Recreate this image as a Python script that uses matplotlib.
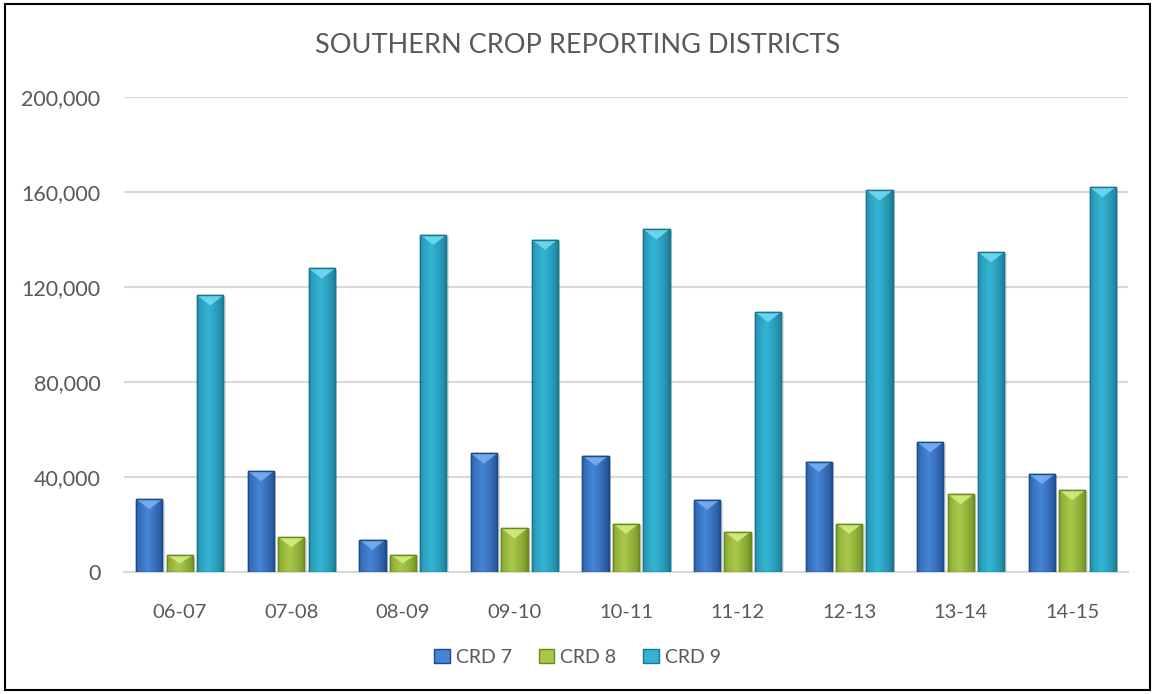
import numpy as np
import matplotlib.pyplot as plt
from matplotlib.colors import LinearSegmentedColormap
from matplotlib.patches import Polygon, Rectangle
from matplotlib.ticker import FuncFormatter

# values
seasons = ["06-07", "07-08", "08-09", "09-10", "10-11", "11-12", "12-13", "13-14", "14-15"]
crd7 = [30700, 42500, 13600, 49900, 49000, 30500, 46500, 54700, 41300]
crd8 = [7100, 14700, 7300, 18400, 20400, 17000, 20400, 32800, 34500]
crd9 = [116500, 127800, 142000, 140000, 144300, 109500, 160700, 134700, 162100]
series_names = ["CRD 7", "CRD 8", "CRD 9"]

# (dark edge, light centre, top bevel)
palettes = [
    ("#1d4a8a", "#4684d6", "#7cb2f2"),
    ("#6b8a1e", "#a9c84a", "#d6ee84"),
    ("#1a7690", "#33b4d3", "#74dcf2"),
]

plt.rcParams['font.family'] = ['Lato', 'DejaVu Sans']
text_col = "#595959"

fig = plt.figure(figsize=(11.55, 6.94), dpi=100)
ax = fig.add_axes([0.1074, 0.1758, 0.8692, 0.6844])

x = np.arange(len(seasons))
width = 0.235
step = 0.273
grad = np.linspace(0, 1, 64)
profile = np.clip(1 - np.abs(grad - 0.42) / 0.58, 0, 1) ** 0.6
bevel_h = 4300

for i, vals in enumerate([crd7, crd8, crd9]):
    dark, light, top = palettes[i]
    cmap = LinearSegmentedColormap.from_list("g%d" % i, [dark, light])
    bars = ax.bar(x + (i - 1) * step, vals, width, color=light, edgecolor=dark,
                  linewidth=1.0, zorder=3, label=series_names[i])
    for b in bars:
        x0, w, h = b.get_x(), b.get_width(), b.get_height()
        # soft shadow
        ax.add_patch(Rectangle((x0 + 0.012, 0), w + 0.01, h - 600, color="#000000",
                               alpha=0.12, zorder=2, lw=0))
        im = ax.imshow(profile[None, :], cmap=cmap, aspect='auto',
                       extent=(x0, x0 + w, 0, h), zorder=3.5, vmin=0, vmax=1)
        im.set_clip_path(b)
        bh = min(bevel_h, h * 0.5)
        ax.add_patch(Polygon([(x0, h), (x0 + w, h), (x0 + w * 0.5, h - bh)],
                             closed=True, facecolor=top, edgecolor='none',
                             alpha=0.85, zorder=4))
        ax.add_patch(Rectangle((x0, 0), w, h, fill=False, edgecolor=dark,
                               linewidth=1.0, zorder=4.5))

ax.set_xlim(-0.5, len(seasons) - 0.5)
ax.set_ylim(0, 200000)
ax.set_yticks(np.arange(0, 200001, 40000))
ax.yaxis.set_major_formatter(FuncFormatter(lambda v, p: f"{int(v):,}"))
ax.set_xticks(x)
ax.set_xticklabels(seasons)
ax.grid(axis='y', color="#d9d9d9", linewidth=1.5, zorder=0)
ax.set_axisbelow(True)
for s in ["top", "right", "left"]:
    ax.spines[s].set_visible(False)
ax.spines["bottom"].set_color("#d9d9d9")
ax.spines["bottom"].set_linewidth(1.5)
ax.tick_params(axis='both', length=0, labelcolor=text_col)
ax.tick_params(axis='y', pad=17, labelsize=15.5)
ax.tick_params(axis='x', pad=23, labelsize=14.5)

fig.text(0.5, 0.935, "SOUTHERN CROP REPORTING DISTRICTS", ha='center', va='center',
         fontsize=19.5, color=text_col)

handles, labels = ax.get_legend_handles_labels()
leg = fig.legend(handles, labels, loc='center', bbox_to_anchor=(0.5, 0.053), ncol=3,
                 frameon=False, fontsize=14, handlelength=0.8, handleheight=0.8,
                 handletextpad=0.3, columnspacing=1.4, labelcolor=text_col)

fig.add_artist(Rectangle((0.004, 0.006), 0.992, 0.988, transform=fig.transFigure,
                         fill=False, edgecolor="black", linewidth=1.5))

fig.savefig("out.png", dpi=100)
